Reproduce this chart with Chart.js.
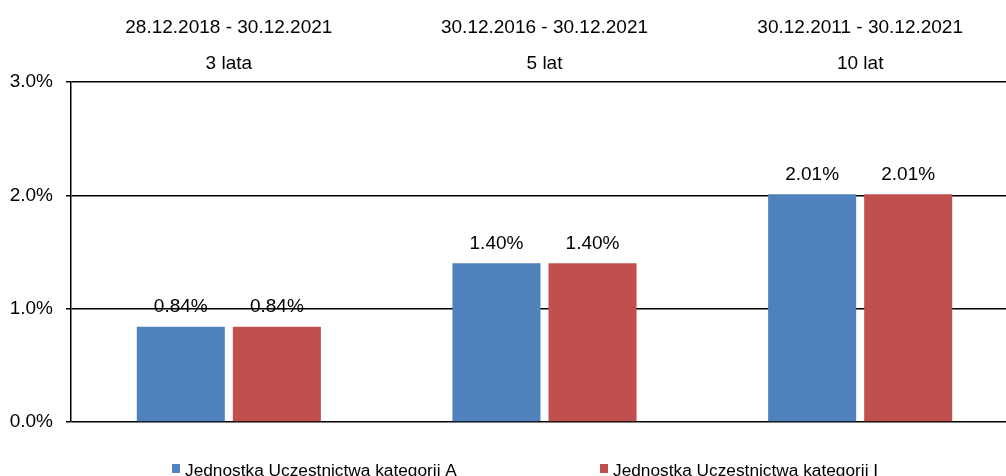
<!DOCTYPE html>
<html>
<head>
<meta charset="utf-8">
<script src="https://cdn.jsdelivr.net/npm/chart.js@4/dist/chart.umd.min.js"></script>
<style>
  html, body { margin: 0; padding: 0; overflow: hidden; background: #fff; }
  #box { width: 1018px; height: 476px; }
</style>
</head>
<body>
<div id="box"><canvas id="grafica"></canvas></div>
<script>
// Okresy (etykiety nad kategoriami)
const okresy = ["28.12.2018 - 30.12.2021", "30.12.2016 - 30.12.2021", "30.12.2011 - 30.12.2021"];
const nazwyOkresow = ["3 lata", "5 lat", "10 lat"];
// Serie
const serie = ["Jednostka Uczestnictwa kategorii A", "Jednostka Uczestnictwa kategorii I"];
const wartosciA = [0.84, 1.40, 2.01];
const wartosciI = [0.84, 1.40, 2.01];
// Oś Y
const osMin = 0;
const osMax = 3;
const osKrok = 1;

const kolory = ["#4F81BD", "#C0504D"];

Chart.defaults.font.family = "'Liberation Sans', Arial, sans-serif";
Chart.defaults.color = "#000";

// Etykiety z wartościami nad słupkami
const etykietyWartosci = {
    id: "etykietyWartosci",
    afterDatasetsDraw(chart) {
        const ctx = chart.ctx;
        ctx.save();
        ctx.font = "19px 'Liberation Sans', Arial, sans-serif";
        ctx.fillStyle = "#000";
        ctx.textAlign = "center";
        ctx.textBaseline = "alphabetic";
        chart.data.datasets.forEach((ds, i) => {
            chart.getDatasetMeta(i).data.forEach((bar, j) => {
                ctx.fillText(ds.data[j].toFixed(2) + "%", bar.x, bar.y - 14.5);
            });
        });
        ctx.restore();
    }
};

// Legenda rysowana ręcznie (szeroko rozstawione pozycje)
const legenda = {
    id: "legenda",
    afterDraw(chart) {
        const ctx = chart.ctx;
        const pozX = [172, 600];
        ctx.save();
        ctx.font = "17.3px 'Liberation Sans', Arial, sans-serif";
        ctx.textBaseline = "alphabetic";
        ctx.textAlign = "left";
        chart.data.datasets.forEach((ds, i) => {
            ctx.fillStyle = ds.backgroundColor;
            ctx.fillRect(pozX[i], 464, 8, 9);
            ctx.fillStyle = "#000";
            ctx.fillText(ds.label, pozX[i] + 13, 475.5);
        });
        ctx.restore();
    }
};

new Chart(document.querySelector("#grafica"), {
    type: "bar",
    data: {
        labels: okresy.map((o, i) => [o, nazwyOkresow[i]]),
        datasets: [
            { label: serie[0], data: wartosciA, backgroundColor: kolory[0] },
            { label: serie[1], data: wartosciI, backgroundColor: kolory[1] }
        ]
    },
    options: {
        responsive: true,
        maintainAspectRatio: false,
        animation: false,
        categoryPercentage: 0.6086,
        barPercentage: 0.9167,
        layout: { padding: { left: 0, right: 0, top: 0, bottom: 54 } },
        plugins: {
            legend: { display: false },
            tooltip: { enabled: false }
        },
        scales: {
            x: {
                position: "top",
                grid: { display: false, drawTicks: false },
                border: { display: false },
                ticks: {
                    padding: 0,
                    maxRotation: 0,
                    autoSkip: false,
                    font: { size: 19, lineHeight: 1.9 }
                },
                afterFit: s => { s.height = 82; }
            },
            y: {
                min: osMin,
                max: osMax,
                grid: { color: "#000", lineWidth: 1.5, tickLength: 5 },
                border: { display: true, color: "#000", width: 1.5 },
                ticks: {
                    stepSize: osKrok,
                    padding: 13,
                    font: { size: 19 },
                    callback: v => v.toFixed(1) + "%"
                },
                afterFit: s => { s.width = 71; }
            }
        }
    },
    plugins: [etykietyWartosci, legenda]
});
</script>
</body>
</html>
